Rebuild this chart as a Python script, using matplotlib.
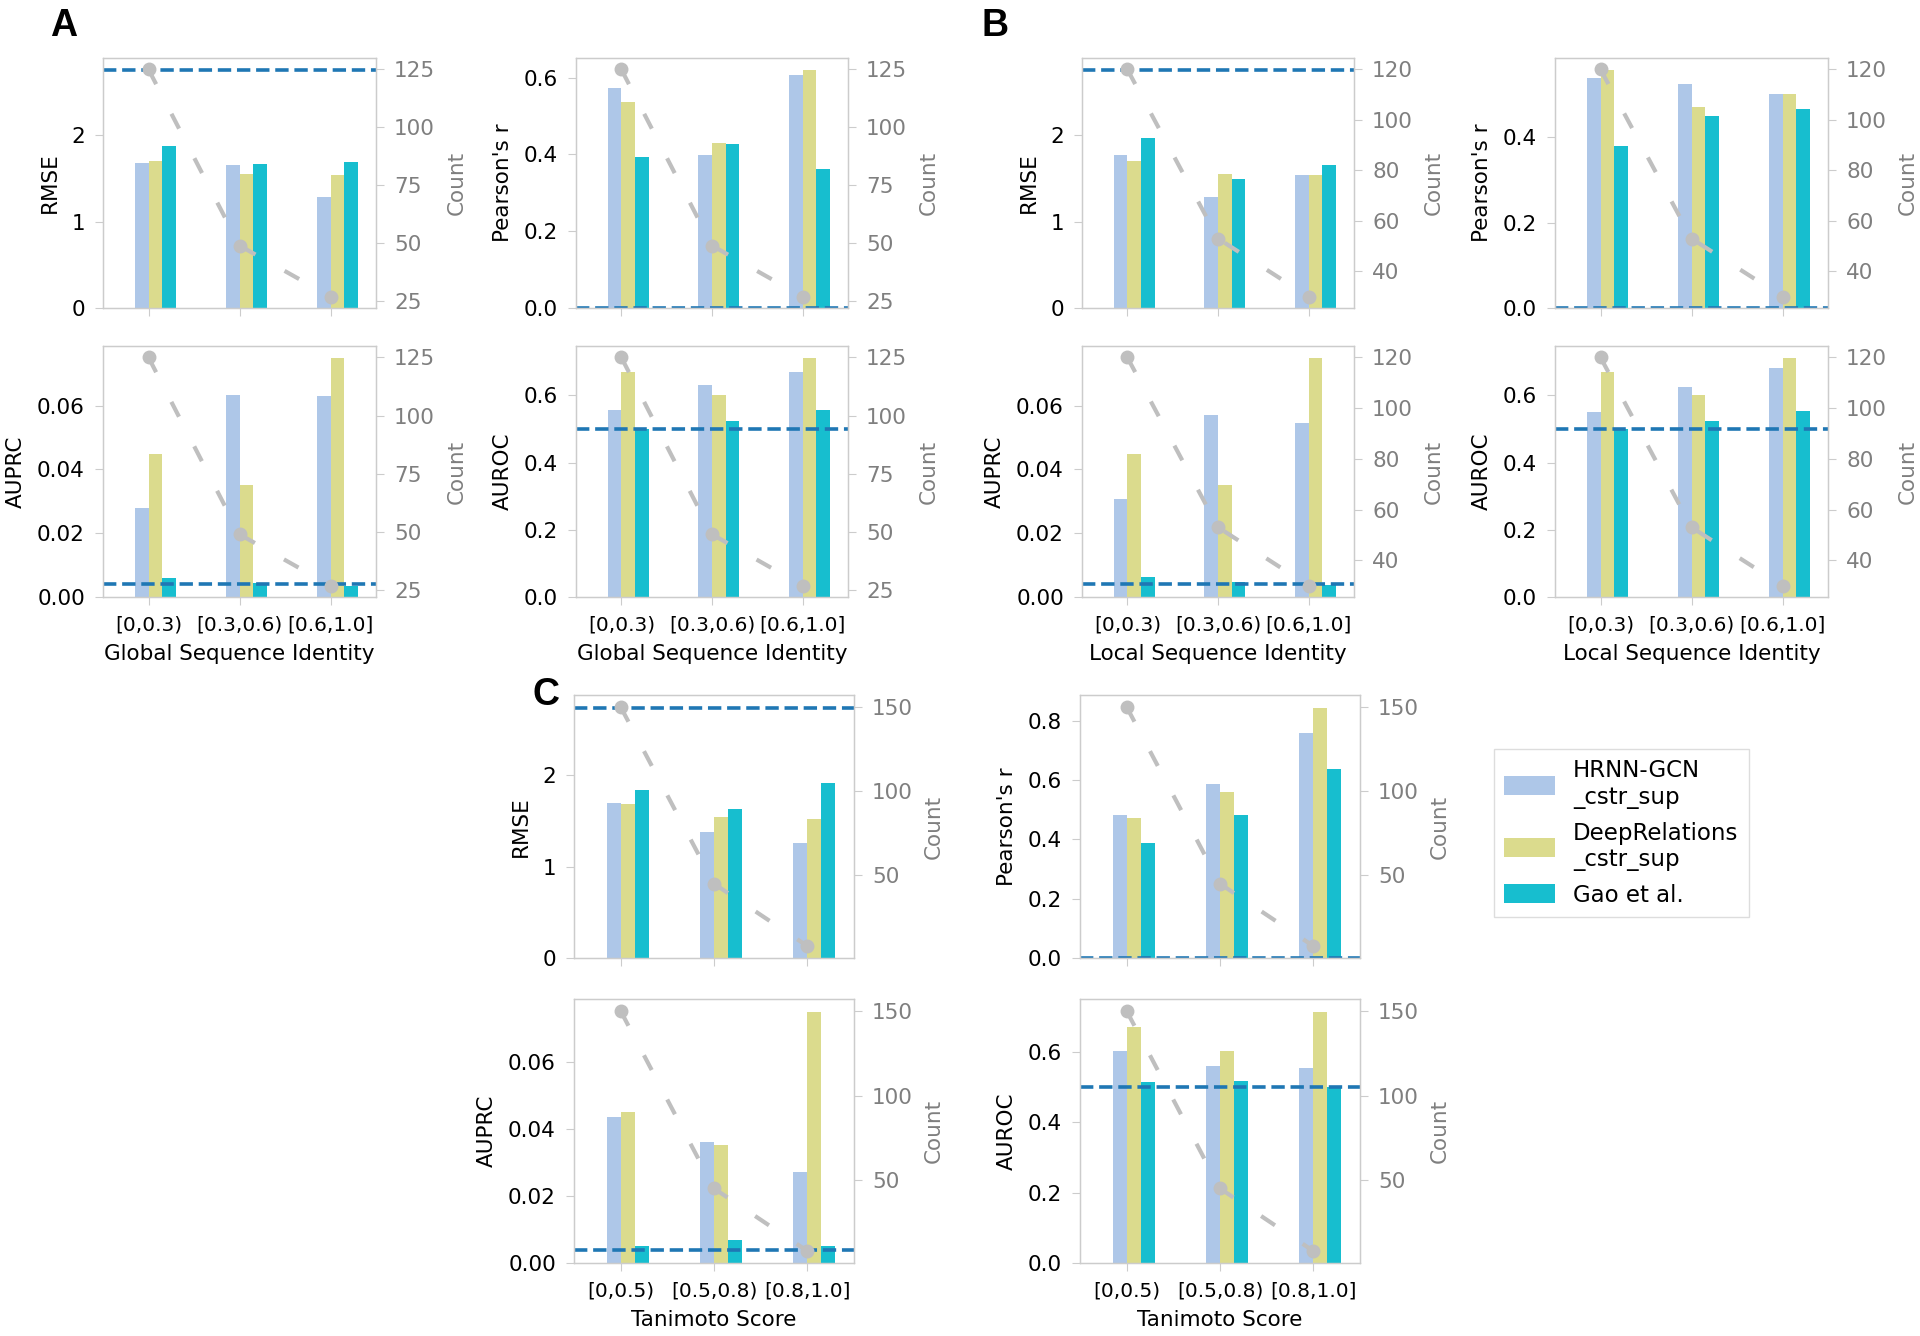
import matplotlib
matplotlib.use("Agg")
import matplotlib.pyplot as plt
import numpy as np

plt.rcParams['font.family'] = ['DejaVu Sans']

# === data ===
models = ["HRNN-GCN\n_cstr_sup", "DeepRelations\n_cstr_sup", "Gao et al."]
colors = ["#aec7e8", "#dbdb8d", "#17becf"]

seq_bins = ["[0,0.3)", "[0.3,0.6)", "[0.6,1.0]"]
tan_bins = ["[0,0.5)", "[0.5,0.8)", "[0.8,1.0]"]

count_global = [125, 49, 27]
count_local = [120, 53, 30]
count_tan = [150, 45, 8]

# one list per model (HRNN-GCN, DeepRelations, Gao et al.), values per bin
rmse_global = [[1.677, 1.654, 1.288], [1.70, 1.55, 1.538], [1.877, 1.662, 1.688]]
pearson_global = [[0.574, 0.398, 0.606], [0.537, 0.429, 0.620], [0.394, 0.426, 0.361]]
auprc_global = [[0.0279, 0.0632, 0.0629], [0.0449, 0.035, 0.0749], [0.0060, 0.0044, 0.0036]]
auroc_global = [[0.556, 0.631, 0.669], [0.668, 0.602, 0.711], [0.500, 0.522, 0.556]]

rmse_local = [[1.769, 1.285, 1.538], [1.696, 1.55, 1.538], [1.962, 1.492, 1.65]]
pearson_local = [[0.538, 0.524, 0.501], [0.557, 0.470, 0.501], [0.380, 0.448, 0.466]]
auprc_local = [[0.0306, 0.0571, 0.0546], [0.0449, 0.035, 0.0749], [0.0063, 0.0048, 0.0038]]
auroc_local = [[0.551, 0.626, 0.681], [0.668, 0.602, 0.711], [0.500, 0.523, 0.552]]

rmse_tan = [[1.694, 1.377, 1.260], [1.687, 1.541, 1.526], [1.836, 1.628, 1.909]]
pearson_tan = [[0.483, 0.587, 0.760], [0.473, 0.561, 0.845], [0.388, 0.481, 0.637]]
auprc_tan = [[0.0436, 0.036, 0.027], [0.0451, 0.0351, 0.075], [0.0052, 0.0069, 0.0052]]
auroc_tan = [[0.603, 0.560, 0.554], [0.670, 0.604, 0.715], [0.516, 0.518, 0.501]]

# random / baseline reference values
base_rmse_seq = 2.754
base_rmse_tan = 2.74
base_pearson = 0.0
base_auprc = 0.004
base_auroc = 0.5

rmse_ticks = [0, 1, 2]
pearson_ticks_a = [0.0, 0.2, 0.4, 0.6]
pearson_ticks_b = [0.0, 0.2, 0.4]
pearson_ticks_c = [0.0, 0.2, 0.4, 0.6, 0.8]
auprc_ticks = [0.00, 0.02, 0.04, 0.06]
auroc_ticks = [0.0, 0.2, 0.4, 0.6]
count_ticks_a = [25, 50, 75, 100, 125]
count_ticks_b = [40, 60, 80, 100, 120]
count_ticks_c = [50, 100, 150]

W, H = 1920, 1336
fig = plt.figure(figsize=(W / 100, H / 100), dpi=100)

SPINE = '#cccccc'
GRAY_TXT = '#7f7f7f'
FS_Y = 15.5     # y tick labels, axis labels
FS_X = 14.5     # x tick labels


def rect(x0, y0, x1, y1):
    return [x0 / W, 1 - y1 / H, (x1 - x0) / W, (y1 - y0) / H]


def panel(r, vals, base, yticks, ylabel, yfmt, counts, cticks, bins, xlabel, show_x):
    ax = fig.add_axes(r)
    x = np.arange(len(bins))
    bars = []
    for i, v in enumerate(vals):
        bars.append(ax.bar(x + (i - 0.5) * 0.15, v, width=0.15, color=colors[i],
                           label=models[i]))
    ax.axhline(base, color='#1f77b4', lw=2.6, ls='--')
    ax.set_yticks(yticks)
    ax.set_yticklabels([yfmt.format(t) for t in yticks])
    ax.set_ylabel(ylabel, fontsize=FS_Y, labelpad=8)
    ax.set_xticks(x)
    if show_x:
        ax.set_xticklabels(bins)
        ax.set_xlabel(xlabel, fontsize=FS_Y, labelpad=7)
    else:
        ax.set_xticklabels([])
    ax.tick_params(direction='out', length=6, width=0.8, color=SPINE, pad=7)
    ax.tick_params(axis='y', labelsize=FS_Y)
    ax.tick_params(axis='x', labelsize=FS_X)

    ax2 = ax.twinx()
    ax2.plot(x, counts, color='#bfbfbf', lw=3, dashes=(4, 8),
             marker='o', ms=9)
    ax2.set_yticks(cticks)
    ax2.set_ylabel("Count", color=GRAY_TXT, fontsize=FS_Y, labelpad=8)
    ax2.tick_params(direction='out', length=6, width=0.8, color=SPINE,
                    labelcolor=GRAY_TXT, labelsize=FS_Y, pad=7)
    ax.set_xlim(-0.5, 2.5)
    for a in (ax, ax2):
        for s in a.spines.values():
            s.set_color(SPINE)
            s.set_linewidth(0.9)
    return ax, bars


# === A: global sequence identity ===
ax, bars = panel(rect(103, 58, 376, 308), rmse_global, base_rmse_seq, rmse_ticks, "RMSE", "{:g}",
                 count_global, count_ticks_a, seq_bins, "Global Sequence Identity", False)
panel(rect(576, 58, 848, 308), pearson_global, base_pearson, pearson_ticks_a, "Pearson's r", "{:.1f}",
      count_global, count_ticks_a, seq_bins, "Global Sequence Identity", False)
panel(rect(103, 346, 376, 597), auprc_global, base_auprc, auprc_ticks, "AUPRC", "{:.2f}",
      count_global, count_ticks_a, seq_bins, "Global Sequence Identity", True)
panel(rect(576, 346, 848, 597), auroc_global, base_auroc, auroc_ticks, "AUROC", "{:.1f}",
      count_global, count_ticks_a, seq_bins, "Global Sequence Identity", True)

# === B: local sequence identity ===
panel(rect(1082, 58, 1354, 308), rmse_local, base_rmse_seq, rmse_ticks, "RMSE", "{:g}",
      count_local, count_ticks_b, seq_bins, "Local Sequence Identity", False)
panel(rect(1555, 58, 1828, 308), pearson_local, base_pearson, pearson_ticks_b, "Pearson's r", "{:.1f}",
      count_local, count_ticks_b, seq_bins, "Local Sequence Identity", False)
panel(rect(1082, 346, 1354, 597), auprc_local, base_auprc, auprc_ticks, "AUPRC", "{:.2f}",
      count_local, count_ticks_b, seq_bins, "Local Sequence Identity", True)
panel(rect(1555, 346, 1828, 597), auroc_local, base_auroc, auroc_ticks, "AUROC", "{:.1f}",
      count_local, count_ticks_b, seq_bins, "Local Sequence Identity", True)

# === C: tanimoto score ===
panel(rect(574, 695, 854, 958), rmse_tan, base_rmse_tan, rmse_ticks, "RMSE", "{:g}",
      count_tan, count_ticks_c, tan_bins, "Tanimoto Score", False)
panel(rect(1080, 695, 1360, 958), pearson_tan, base_pearson, pearson_ticks_c, "Pearson's r", "{:.1f}",
      count_tan, count_ticks_c, tan_bins, "Tanimoto Score", False)
panel(rect(574, 999, 854, 1263), auprc_tan, base_auprc, auprc_ticks, "AUPRC", "{:.2f}",
      count_tan, count_ticks_c, tan_bins, "Tanimoto Score", True)
panel(rect(1080, 999, 1360, 1263), auroc_tan, base_auroc, auroc_ticks, "AUROC", "{:.1f}",
      count_tan, count_ticks_c, tan_bins, "Tanimoto Score", True)

# panel letters
for letter, px, py in [("A", 50, 36), ("B", 982, 36), ("C", 533, 705)]:
    fig.text(px / W, 1 - py / H, letter, fontsize=27, fontweight='bold',
             family='Liberation Sans', va='baseline')

fig.legend([b for b in bars], models, loc='upper left',
           bbox_to_anchor=(1494 / W, 1 - 749 / H), bbox_transform=fig.transFigure,
           borderaxespad=0, fontsize=16.5, handlelength=2.2, handleheight=0.9,
           labelspacing=0.55, handletextpad=0.8, borderpad=0.45,
           frameon=True, edgecolor='#dddddd', framealpha=1, fancybox=False)

fig.savefig("out.png", dpi=100)
